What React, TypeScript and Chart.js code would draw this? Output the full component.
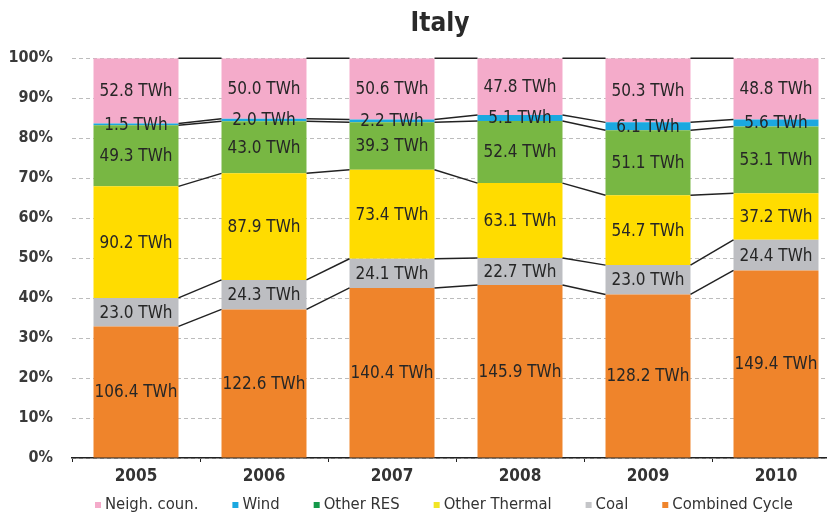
import React, { useEffect, useRef } from "react";
import { Chart, registerables } from "chart.js";

Chart.register(...registerables);

const years = ["2005", "2006", "2007", "2008", "2009", "2010"];
const seriesNames = ["Combined Cycle", "Coal", "Other Thermal", "Other RES", "Wind", "Neigh. coun."];
const combinedCycle = [106.4, 122.6, 140.4, 145.9, 128.2, 149.4];
const coal = [23.0, 24.3, 24.1, 22.7, 23.0, 24.4];
const otherThermal = [90.2, 87.9, 73.4, 63.1, 54.7, 37.2];
const otherRES = [49.3, 43.0, 39.3, 52.4, 51.1, 53.1];
const wind = [1.5, 2.0, 2.2, 5.1, 6.1, 5.6];
const neighCoun = [52.8, 50.0, 50.6, 47.8, 50.3, 48.8];
const barColors = ["#ef842b", "#bdbec2", "#ffdc00", "#78b743", "#1ba8e0", "#f4abca"];
const legendColors = ["#ef842b", "#c4c5c8", "#f2e524", "#14994a", "#1ba8e0", "#f4abca"];

const FONT = "'DejaVu Sans Condensed', 'Liberation Sans Narrow', 'DejaVu Sans', sans-serif";

const series = [combinedCycle, coal, otherThermal, otherRES, wind, neighCoun];
const totals = years.map((_, i) => series.reduce((s, arr) => s + arr[i], 0));

const linksPlugin = {
  id: "links",
  afterDatasetsDraw(chart: any) {
    const ctx = chart.ctx;
    ctx.save();
    ctx.strokeStyle = "#222";
    ctx.lineWidth = 1.5;
    chart.data.datasets.forEach((_: any, di: number) => {
      const meta = chart.getDatasetMeta(di);
      for (let j = 0; j < meta.data.length - 1; j++) {
        const a = meta.data[j];
        const b = meta.data[j + 1];
        ctx.beginPath();
        ctx.moveTo(a.x + a.width / 2, a.y);
        ctx.lineTo(b.x - b.width / 2, b.y);
        ctx.stroke();
      }
    });
    ctx.restore();
  },
};

const labelsPlugin = {
  id: "segLabels",
  afterDatasetsDraw(chart: any) {
    const ctx = chart.ctx;
    ctx.save();
    ctx.fillStyle = "#262626";
    ctx.font = `17px ${FONT}`;
    ctx.textAlign = "center";
    ctx.textBaseline = "middle";
    chart.data.datasets.forEach((ds: any, di: number) => {
      const meta = chart.getDatasetMeta(di);
      meta.data.forEach((el: any, j: number) => {
        const v = ds.twh[j];
        ctx.fillText(`${v.toFixed(1)} TWh`, el.x, (el.y + el.base) / 2 + 1);
      });
    });
    ctx.restore();
  },
};

const legendPlugin = {
  id: "customLegend",
  afterDraw(chart: any) {
    const ctx = chart.ctx;
    ctx.save();
    ctx.font = `16.5px ${FONT}`;
    ctx.textBaseline = "middle";
    ctx.textAlign = "left";
    const box = 6;
    const boxGap = 4;
    const itemGap = 34;
    const order = chart.data.datasets.map((_: any, i: number) => i).reverse();
    const widths = order.map((i: number) => box + boxGap + ctx.measureText(chart.data.datasets[i].label).width);
    const total = widths.reduce((a: number, b: number) => a + b, 0) + itemGap * (order.length - 1);
    const center = (chart.chartArea.left + chart.chartArea.right) / 2 + 0;
    let x = center - total / 2 - 12;
    const y = 505;
    order.forEach((i: number, k: number) => {
      ctx.fillStyle = legendColors[i];
      ctx.fillRect(x, y - box / 2, box, box);
      ctx.fillStyle = "#333";
      ctx.fillText(chart.data.datasets[i].label, x + box + boxGap, y);
      x += widths[k] + itemGap;
    });
    ctx.restore();
  },
};

export default function App() {
  const ref = useRef<HTMLCanvasElement>(null);

  useEffect(() => {
    if (!ref.current) return;
    const chart = new Chart(ref.current, {
      type: "bar",
      data: {
        labels: years,
        datasets: series.map((arr, k) => ({
          label: seriesNames[k],
          data: arr.map((v, i) => (v / totals[i]) * 100),
          twh: arr,
          backgroundColor: barColors[k],
          borderWidth: 0,
          categoryPercentage: 1,
          barPercentage: 0.664,
          yAxisID: "y",
        })) as any,
      },
      options: {
        responsive: false,
        animation: false,
        layout: { padding: { top: 0, left: 0, right: 0, bottom: 29 } },
        scales: {
          x: {
            stacked: true,
            offset: true,
            grid: {
              display: true,
              drawOnChartArea: false,
              drawTicks: true,
              tickLength: 4,
              color: "#222",
              offset: true,
            },
            border: { display: true, color: "#222", width: 1.5 },
            ticks: { color: "#333", font: { family: FONT, size: 17, weight: "bold" }, padding: 4 },
            afterFit: (s: any) => {
              s.height = 30;
            },
          },
          y: {
            stacked: true,
            min: 0,
            max: 100,
            ticks: {
              stepSize: 10,
              color: "#3a3a3a",
              padding: 19,
              font: { family: FONT, size: 16, weight: "bold" },
              callback: (v: any) => `${v}%`,
            },
            grid: { color: "#bcbcbc", drawTicks: false, lineWidth: 1 },
            border: { display: false, dash: [4, 3] },
            afterFit: (s: any) => {
              s.width = 72;
            },
          },
          y2: {
            position: "right",
            display: true,
            grid: { display: false },
            ticks: { display: false },
            border: { display: false },
            afterFit: (s: any) => {
              s.width = 40;
            },
          },
        } as any,
        plugins: {
          title: {
            display: true,
            text: "Italy",
            color: "#2a2a2a",
            font: { family: FONT, size: 26, weight: "bold" },
            padding: { top: 9, bottom: 18 },
          },
          legend: { display: false },
          tooltip: { enabled: false },
        },
      },
      plugins: [linksPlugin, labelsPlugin, legendPlugin],
    });
    return () => chart.destroy();
  }, []);

  return (
    <div style={{ position: "fixed", left: 0, top: 0, width: 827, height: 517, overflow: "hidden", background: "#fff" }}>
      <canvas ref={ref} width={880} height={517} style={{ width: 880, height: 517, display: "block" }} />
    </div>
  );
}
